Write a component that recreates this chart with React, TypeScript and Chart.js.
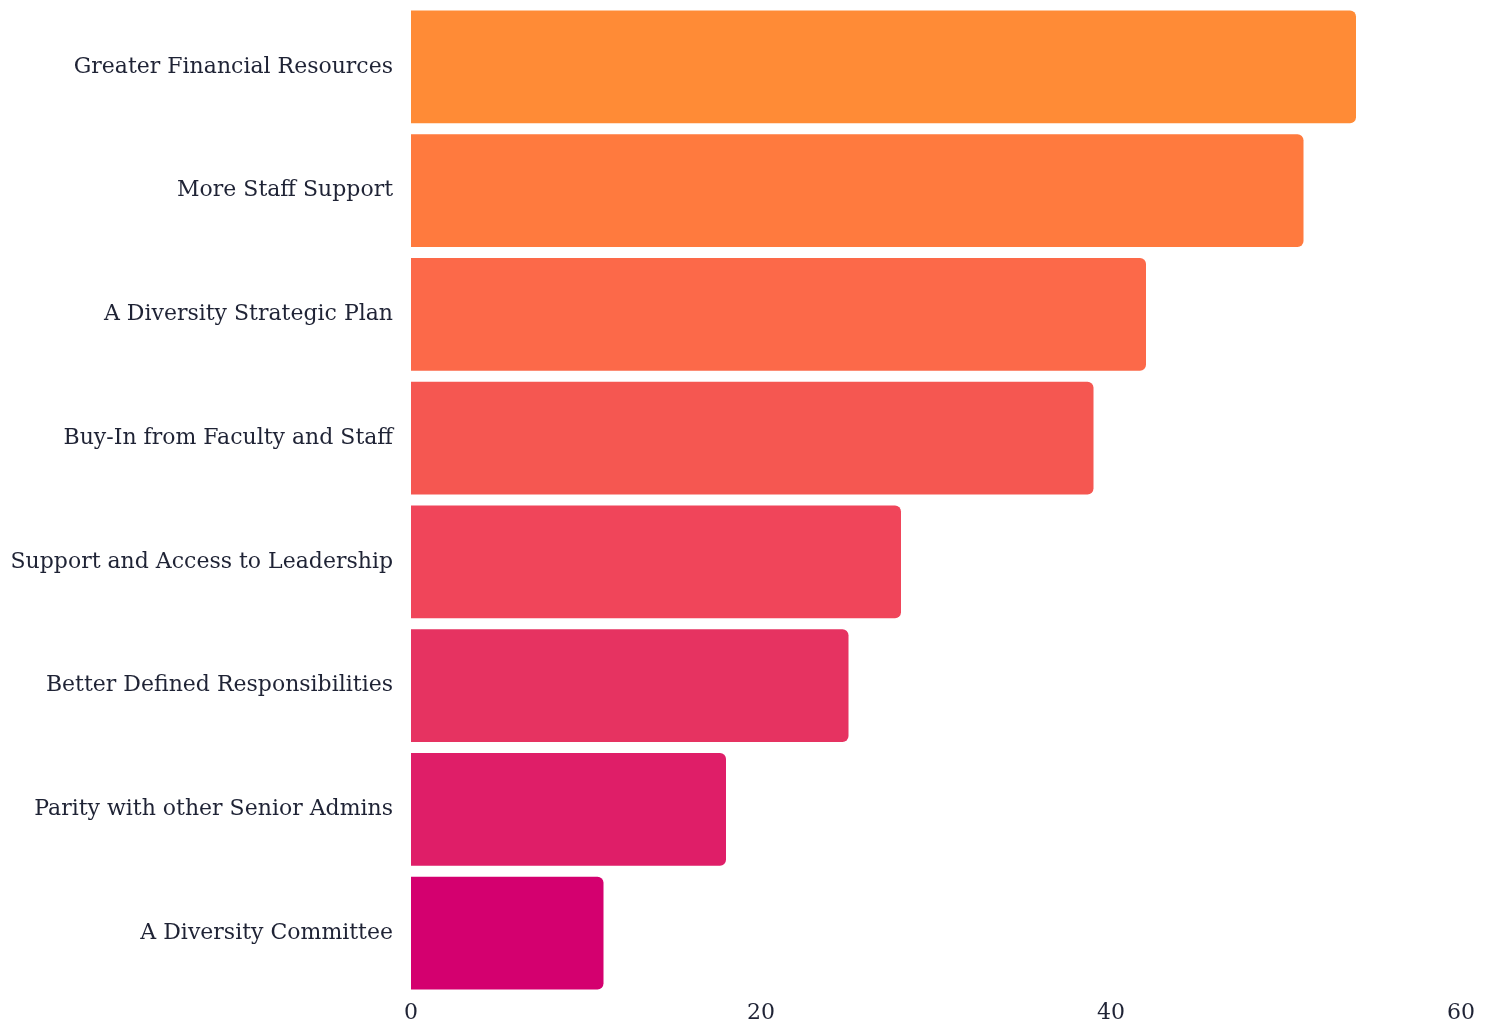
import React, { useEffect, useRef } from "react";
import { Chart, registerables } from "chart.js";

Chart.register(...registerables);

const categories = [
  "Greater Financial Resources",
  "More Staff Support",
  "A Diversity Strategic Plan",
  "Buy-In from Faculty and Staff",
  "Support and Access to Leadership",
  "Better Defined Responsibilities",
  "Parity with other Senior Admins",
  "A Diversity Committee",
];

const values = [54, 51, 42, 39, 28, 25, 18, 11];

const barColors = [
  "#FF8B36",
  "#FF7A3E",
  "#FC6949",
  "#F55751",
  "#F0455A",
  "#E63361",
  "#DF1E68",
  "#D4006F",
];

const xTicks = [0, 20, 40, 60];

const FONT = "'DejaVu Serif', 'Liberation Serif', serif";
const TEXT_COLOR = "#1f2335";

export default function App() {
  const ref = useRef<HTMLCanvasElement | null>(null);

  useEffect(() => {
    document.body.style.margin = "0";
    if (!ref.current) return;
    const chart = new Chart(ref.current, {
      type: "bar",
      data: {
        labels: categories,
        datasets: [
          {
            data: values,
            backgroundColor: barColors,
            borderRadius: 6,
            borderSkipped: "start",
            barPercentage: 0.912,
            categoryPercentage: 1,
          },
        ],
      },
      options: {
        indexAxis: "y",
        animation: false,
        responsive: true,
        maintainAspectRatio: false,
        layout: { padding: { top: 5, right: 30, left: 0, bottom: 0 } },
        plugins: {
          legend: { display: false },
          tooltip: { enabled: false },
        },
        scales: {
          x: {
            min: 0,
            max: 60,
            grid: { display: false, drawTicks: false },
            border: { display: false },
            afterBuildTicks: (scale: any) => {
              scale.ticks = xTicks.map((v) => ({ value: v }));
            },
            afterFit: (scale: any) => {
              scale.height = 28;
              scale.paddingLeft = 0;
              scale.paddingRight = 0;
            },
            ticks: {
              padding: 5,
              color: TEXT_COLOR,
              font: { family: FONT, size: 22 },
              maxRotation: 0,
            },
          },
          y: {
            grid: { display: false, drawTicks: false },
            border: { display: false },
            afterFit: (scale: any) => {
              scale.width = 411;
              scale.paddingTop = 0;
              scale.paddingBottom = 0;
            },
            ticks: {
              padding: 18,
              color: TEXT_COLOR,
              font: { family: FONT, size: 22 },
            },
          },
        },
      },
    });
    return () => chart.destroy();
  }, []);

  return (
    <div style={{ position: "absolute", left: 0, top: 0, width: 1491, height: 1023 }}>
      <canvas ref={ref} />
    </div>
  );
}
